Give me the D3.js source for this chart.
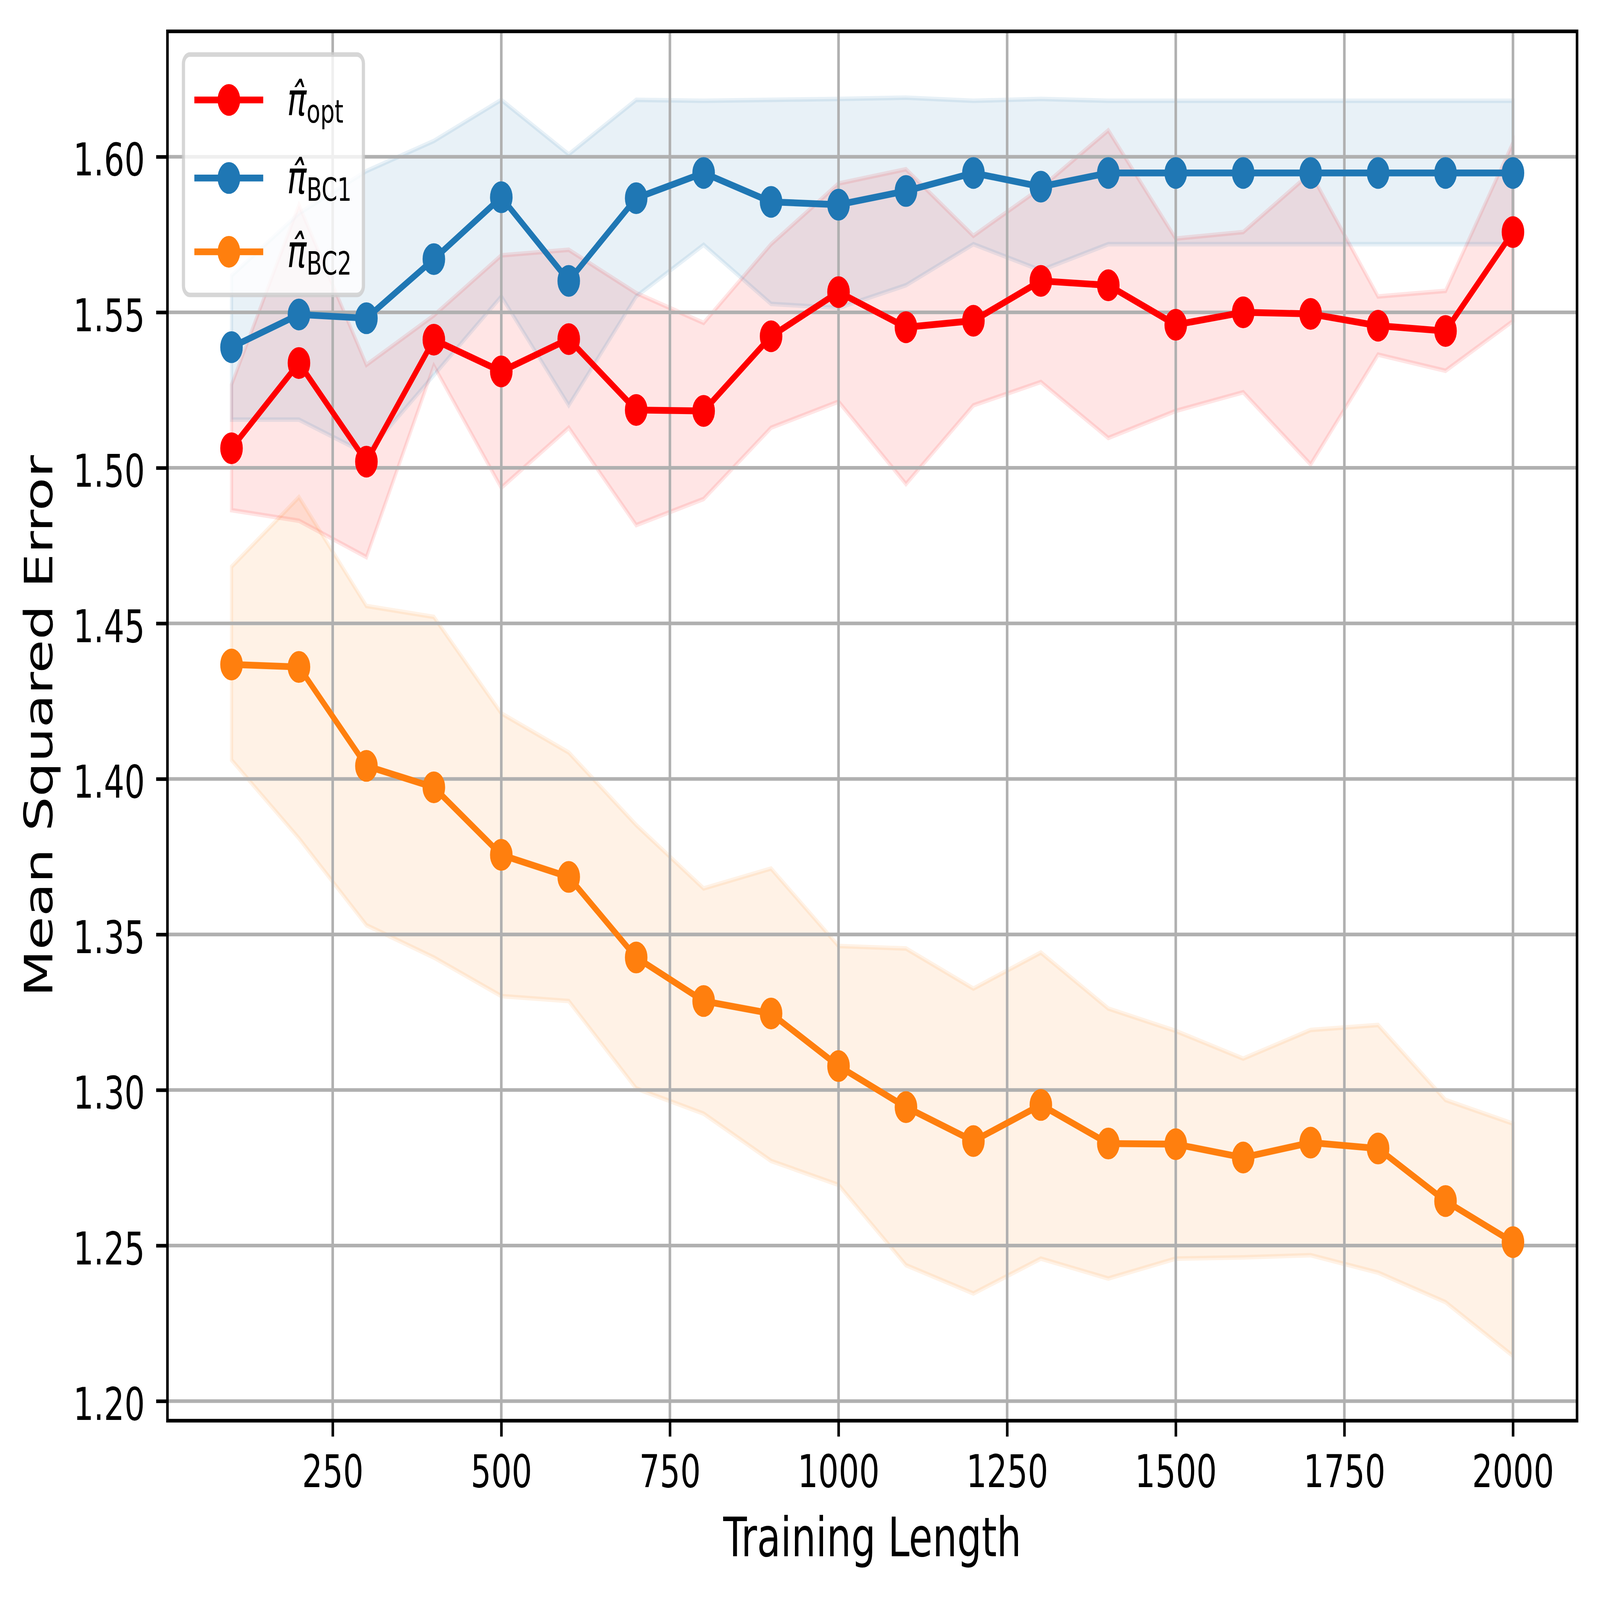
<!DOCTYPE html>
<html>
<head>
<meta charset="utf-8">
<script src="https://cdn.jsdelivr.net/npm/d3@7"></script>
<style>
html, body { margin: 0; padding: 0; background: #ffffff; overflow: hidden; }
svg { display: block; width: 100vw; height: 100vh; }
</style>
</head>
<body>
<svg id="chart" viewBox="0 0 6899 4899" preserveAspectRatio="none"></svg>
<script>
// ---------------- data ----------------
const trainingLength = [100, 200, 300, 400, 500, 600, 700, 800, 900, 1000,
                        1100, 1200, 1300, 1400, 1500, 1600, 1700, 1800, 1900, 2000];

const optMean  = [1.5063, 1.5337, 1.5020, 1.5412, 1.5310, 1.5414, 1.5186, 1.5183, 1.5423, 1.5565,
                  1.5452, 1.5473, 1.5601, 1.5587, 1.5460, 1.5500, 1.5495, 1.5457, 1.5440, 1.5758];
const optUpper = [1.5267, 1.5845, 1.5331, 1.5490, 1.5683, 1.5701, 1.5562, 1.5466, 1.5719, 1.5914,
                  1.5960, 1.5746, 1.5900, 1.6085, 1.5737, 1.5758, 1.5948, 1.5551, 1.5569, 1.6045];
const optLower = [1.4864, 1.4830, 1.4713, 1.5328, 1.4936, 1.5129, 1.4816, 1.4900, 1.5129, 1.5213,
                  1.4948, 1.5201, 1.5276, 1.5096, 1.5183, 1.5243, 1.5011, 1.5364, 1.5312, 1.5472];

const bc1Mean  = [1.5388, 1.5493, 1.5481, 1.5671, 1.5870, 1.5601, 1.5867, 1.5948, 1.5855, 1.5846,
                  1.5890, 1.5948, 1.5904, 1.5948, 1.5948, 1.5948, 1.5948, 1.5948, 1.5948, 1.5948];
const bc1Upper = [1.5618, 1.5818, 1.5954, 1.6051, 1.6183, 1.6008, 1.6183, 1.6180, 1.6183, 1.6186,
                  1.6190, 1.6180, 1.6186, 1.6180, 1.6180, 1.6180, 1.6180, 1.6180, 1.6180, 1.6180];
const bc1Lower = [1.5155, 1.5155, 1.5045, 1.5298, 1.5551, 1.5201, 1.5551, 1.5717, 1.5527, 1.5514,
                  1.5587, 1.5719, 1.5635, 1.5719, 1.5719, 1.5719, 1.5719, 1.5719, 1.5719, 1.5719];

const bc2Mean  = [1.4368, 1.4360, 1.4042, 1.3973, 1.3756, 1.3685, 1.3426, 1.3286, 1.3246, 1.3077,
                  1.2945, 1.2836, 1.2952, 1.2828, 1.2826, 1.2783, 1.2831, 1.2812, 1.2643, 1.2511];
const bc2Upper = [1.4682, 1.4906, 1.4556, 1.4521, 1.4211, 1.4085, 1.3852, 1.3648, 1.3712, 1.3463,
                  1.3455, 1.3326, 1.3442, 1.3262, 1.3190, 1.3101, 1.3193, 1.3209, 1.2968, 1.2892];
const bc2Lower = [1.4061, 1.3809, 1.3530, 1.3426, 1.3302, 1.3286, 1.3005, 1.2924, 1.2772, 1.2695,
                  1.2437, 1.2346, 1.2458, 1.2394, 1.2458, 1.2462, 1.2469, 1.2413, 1.2318, 1.2145];

const seriesSubscripts = ["opt", "BC1", "BC2"];
const xTicks = [250, 500, 750, 1000, 1250, 1500, 1750, 2000];
const yTicks = [1.20, 1.25, 1.30, 1.35, 1.40, 1.45, 1.50, 1.55, 1.60];
const xLabel = "Training Length";
const yLabel = "Mean Squared Error";
const xLimits = [5, 2095];
const yLimits = [1.19370, 1.64032];

// ---------------- styles ----------------
const colors = ["#ff0000", "#1f77b4", "#ff7f0e"];
const FONT = "DejaVu Sans";
const PT = 1000 / 72;           // px per point at 1000 dpi

// ---------------- build series ----------------
const series = [
  { mean: optMean, upper: optUpper, lower: optLower },
  { mean: bc1Mean, upper: bc1Upper, lower: bc1Lower },
  { mean: bc2Mean, upper: bc2Upper, lower: bc2Lower }
].map((s, i) => ({
  name: seriesSubscripts[i],
  color: colors[i],
  points: trainingLength.map((t, j) => ({ x: t, m: s.mean[j], hi: s.upper[j], lo: s.lower[j] }))
}));

// ---------------- layout ----------------
const plot = { left: 722, right: 6800, top: 96, bottom: 4350 };
const svg = d3.select("#chart");

const x = d3.scaleLinear().domain(xLimits).range([plot.left, plot.right]);
const y = d3.scaleLinear().domain(yLimits).range([plot.bottom, plot.top]);

svg.append("rect").attr("x", 0).attr("y", 0).attr("width", 6899).attr("height", 4899).attr("fill", "#ffffff");

// confidence bands (drawn first, below grid)
const area = d3.area().x(d => x(d.x)).y0(d => y(d.lo)).y1(d => y(d.hi));
const fills = svg.append("g");
series.forEach(s => {
  fills.append("path")
    .datum(s.points)
    .attr("d", area)
    .attr("fill", s.color).attr("fill-opacity", 0.1)
    .attr("stroke", s.color).attr("stroke-opacity", 0.1)
    .attr("stroke-width", 1.0 * PT)
    .attr("stroke-linejoin", "miter");
});

// grid
const grid = svg.append("g");
grid.selectAll("line.vx").data(xTicks).join("line").attr("class", "vx")
  .attr("x1", d => x(d)).attr("x2", d => x(d))
  .attr("y1", plot.top).attr("y2", plot.bottom)
  .attr("stroke", "#b0b0b0").attr("stroke-width", 0.8 * PT);
grid.selectAll("line.hy").data(yTicks).join("line").attr("class", "hy")
  .attr("y1", d => y(d)).attr("y2", d => y(d))
  .attr("x1", plot.left).attr("x2", plot.right)
  .attr("stroke", "#b0b0b0").attr("stroke-width", 0.8 * PT);

// lines + markers
const line = d3.line().x(d => x(d.x)).y(d => y(d.m));
const markerR = 6 * PT / 2;
series.forEach(s => {
  const g = svg.append("g");
  g.append("path").datum(s.points).attr("d", line)
    .attr("fill", "none").attr("stroke", s.color)
    .attr("stroke-width", 1.5 * PT)
    .attr("stroke-linejoin", "round").attr("stroke-linecap", "square");
  g.selectAll("circle").data(s.points).join("circle")
    .attr("cx", d => x(d.x)).attr("cy", d => y(d.m))
    .attr("r", markerR)
    .attr("fill", s.color).attr("stroke", s.color).attr("stroke-width", 1.0 * PT);
});

// spines
svg.append("rect")
  .attr("x", plot.left).attr("y", plot.top)
  .attr("width", plot.right - plot.left).attr("height", plot.bottom - plot.top)
  .attr("fill", "none").attr("stroke", "#000000").attr("stroke-width", 0.8 * PT);

// axes
const tickFont = 10 * PT;
const xAxisG = svg.append("g").attr("transform", `translate(0,${plot.bottom})`)
  .call(d3.axisBottom(x).tickValues(xTicks).tickSize(3.5 * PT).tickPadding(56).tickFormat(d3.format("d")));
const yAxisG = svg.append("g").attr("transform", `translate(${plot.left},0)`)
  .call(d3.axisLeft(y).tickValues(yTicks).tickSize(3.5 * PT).tickPadding(3.5 * PT).tickFormat(d3.format(".2f")));
[xAxisG, yAxisG].forEach(g => {
  g.select(".domain").remove();
  g.attr("font-family", FONT).attr("font-size", tickFont);
  g.selectAll(".tick line").attr("stroke", "#000000").attr("stroke-width", 0.8 * PT);
  g.selectAll(".tick text").attr("fill", "#000000");
});
yAxisG.selectAll(".tick text").attr("dy", "0.41em");

// axis labels
const labelFont = 12 * PT;
svg.append("text")
  .attr("x", (plot.left + plot.right) / 2).attr("y", 4765)
  .attr("text-anchor", "middle")
  .attr("font-family", FONT).attr("font-size", labelFont).attr("fill", "#000")
  .text(xLabel);
svg.append("text")
  .attr("transform", `translate(225,${(plot.top + plot.bottom) / 2}) rotate(-90)`)
  .attr("text-anchor", "middle")
  .attr("font-family", FONT).attr("font-size", labelFont).attr("fill", "#000")
  .text(yLabel);

// legend
const legend = svg.append("g");
legend.append("rect")
  .attr("x", 791).attr("y", 167).attr("width", 1567 - 791).attr("height", 903 - 167)
  .attr("rx", 28).attr("ry", 28)
  .attr("fill", "#ffffff").attr("fill-opacity", 0.8)
  .attr("stroke", "#cccccc").attr("stroke-opacity", 0.8)
  .attr("stroke-width", 1.0 * PT);
const rowY = [306, 545, 771];
series.forEach((s, i) => {
  const cy = rowY[i];
  legend.append("line")
    .attr("x1", 838).attr("x2", 1135).attr("y1", cy).attr("y2", cy)
    .attr("stroke", s.color).attr("stroke-width", 1.5 * PT);
  legend.append("circle")
    .attr("cx", 987).attr("cy", cy).attr("r", markerR)
    .attr("fill", s.color).attr("stroke", s.color).attr("stroke-width", 1.0 * PT);
  const base = cy + 47;
  const t = legend.append("text")
    .attr("x", 1238).attr("y", base)
    .attr("font-family", FONT).attr("font-size", tickFont).attr("fill", "#000");
  t.append("tspan").attr("font-style", "oblique").text("\u03C0\u0302");
  t.append("tspan").attr("dy", 23).attr("font-size", tickFont * 0.7).text(s.name);
});
</script>
</body>
</html>
